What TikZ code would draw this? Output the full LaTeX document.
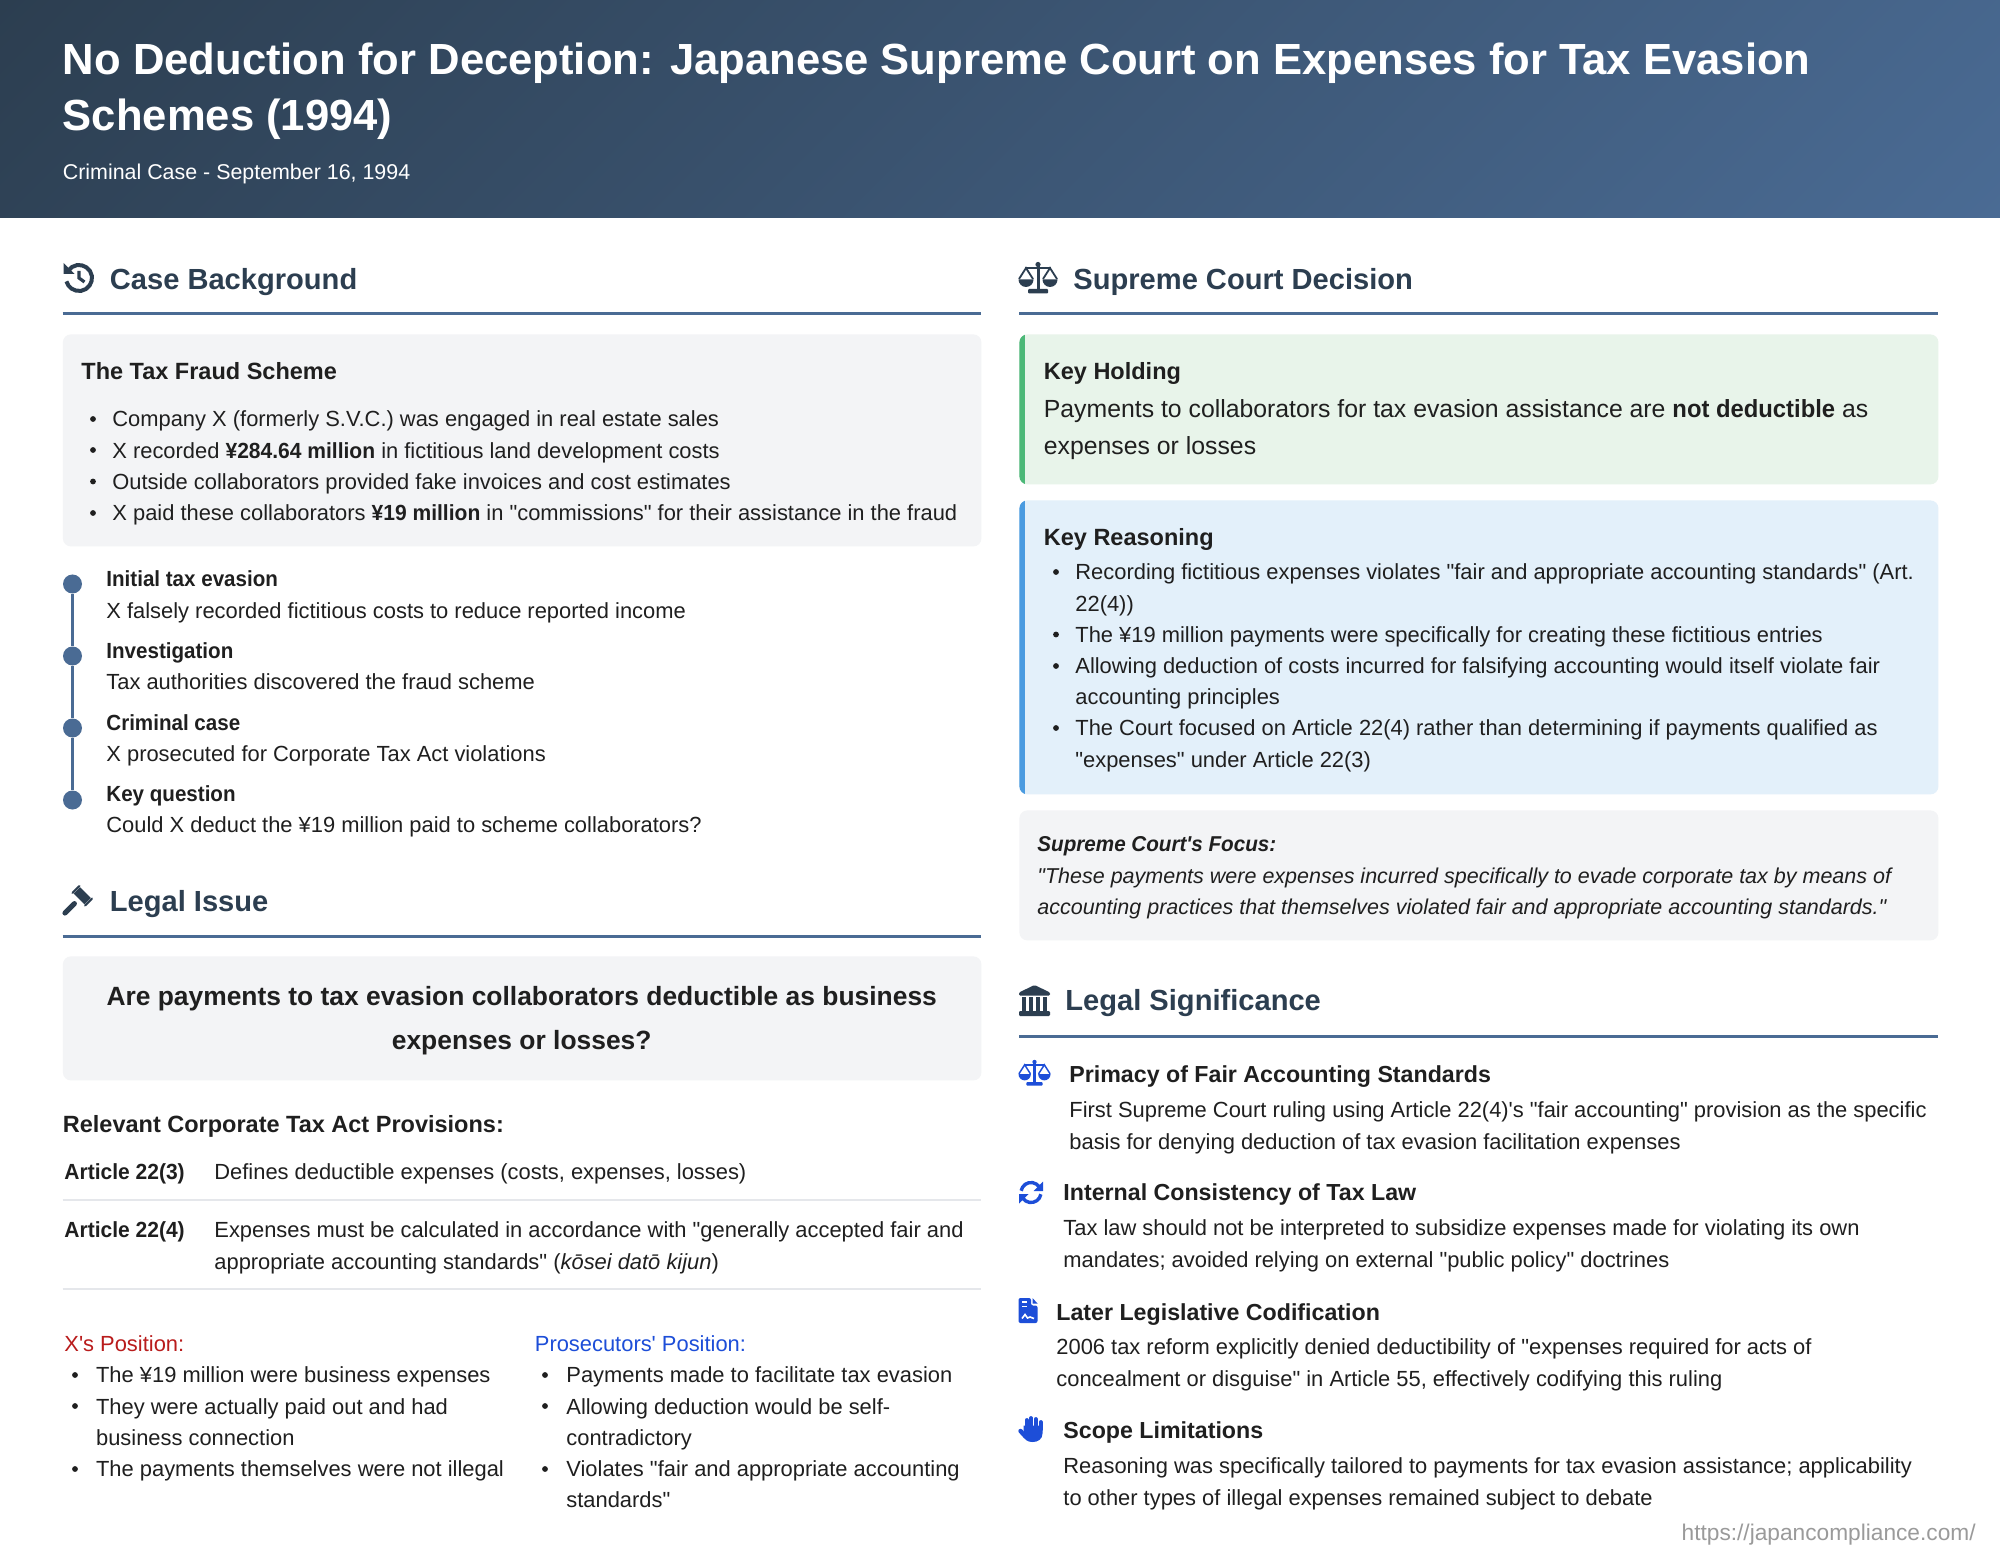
\documentclass[tikz,border=0pt]{standalone}
\usepackage{fontspec}
\setmainfont[Ligatures=TeXOff]{Liberation Sans}
\definecolor{navy}{HTML}{2C3E50}
\definecolor{steel}{HTML}{4A6B94}
\definecolor{panelgray}{HTML}{F3F4F6}
\definecolor{panelgreen}{HTML}{E8F4EA}
\definecolor{bargreen}{HTML}{4CB878}
\definecolor{panelblue}{HTML}{E3F0FA}
\definecolor{barblue}{HTML}{4A9BE0}
\definecolor{inktext}{HTML}{1F1F1F}
\definecolor{linegray}{HTML}{E5E7EB}
\definecolor{posred}{HTML}{B91C1C}
\definecolor{posblue}{HTML}{1D4ED8}
\definecolor{urlgray}{HTML}{9A9A9A}

% bold set a little narrower, as the body weight runs wide
\newcommand{\bld}[1]{\textbf{\addfontfeature{FakeStretch=0.96}#1}}
\newcommand{\stephead}[1]{\textbf{\addfontfeature{FakeStretch=0.94}#1}}

% icons: x, y of centre, colour, size factor
\newcommand{\iconscales}[4]{
	\begin{scope}[shift={(#1,#2)},x={#4*0.5pt},y={#4*0.5pt},#3,fill=#3]
		\draw[line width=#4*1.5pt] (0,13) -- (0,-13);
		\fill (0,13.5) circle (2.6);
		\draw[line width=#4*1.3pt] (-13,10) -- (13,10);
		\fill[rounded corners=0.5pt] (-10,-15.5) rectangle (10,-11);
		\foreach \side in {-12,12} {
			\draw[line width=#4*0.9pt] (\side-7,-1) -- (\side,10) -- (\side+7,-1);
			\fill (\side-7.5,-1.5) -- (\side+7.5,-1.5) arc (0:-180:7.5) -- cycle;
		}
	\end{scope}
}

\begin{document}
\begin{tikzpicture}[x=0.5pt,y=-0.5pt]

		% Define styles
		\tikzstyle{panel} = [rectangle, rounded corners=4pt, fill=panelgray, inner sep=0pt, anchor=north west]
		\tikzset{barpanel/.style 2 args={panel, fill=#2, path picture={
			\fill[#1, sharp corners] (path picture bounding box.south west) rectangle ([xshift=3pt]path picture bounding box.north west);}}}
		\tikzstyle{txt} = [anchor=north west, inner sep=0pt, align=left, text=inktext, execute at begin node=\strut]
		\tikzstyle{bodytxt} = [txt, yshift=-0.6pt, font=\fontsize{10.95}{15.6}\selectfont]
		\tikzstyle{subhead} = [txt, font=\fontsize{11.75}{18}\selectfont\bfseries]
		\tikzstyle{sechead} = [txt, text=navy, font=\fontsize{14.55}{20}\selectfont\bfseries]
		\tikzstyle{sigtitle} = [txt, font=\fontsize{11.6}{17}\selectfont\bfseries]
		\tikzstyle{secrule} = [steel, line width=1.5pt]
		\tikzstyle{rowrule} = [linegray, line width=0.6pt]
		\tikzstyle{bul} = [inktext]
		\tikzstyle{tdot} = [circle, fill=steel, minimum size=9.5pt, inner sep=0pt]

		\path[use as bounding box, fill=white] (0,0) rectangle (2000,1566);

		% Header
		\begin{scope}
			\clip (0,0) rectangle (2000,218);
			\shade[transform canvas={rotate around={-45:(1000,109)}}, left color=navy, right color=steel] (216,-675) rectangle (1784,893);
		\end{scope}
		\node (title) [txt, text=white, font=\fontsize{21.8}{28.2}\selectfont\bfseries] at (62.5,34.2) {\strut No Deduction for Deception: Japanese Supreme Court on Expenses for Tax Evasion\\Schemes (1994)};
		\node (subtitle) [txt, text=white, font=\fontsize{10.7}{16}\selectfont] at (62.5,157) {Criminal Case - September 16, 1994};

		% Case Background
		\node (bghead) [sechead] at (109.5,261) {Case Background};
		\draw [secrule] (62.5,314) -- (981,314);
		\begin{scope}[shift={(79,278)},x=0.5pt,y=0.5pt]
			\draw[navy, line width=2pt] (145:13) arc (145:-165:13);
			\fill[navy] (-15.5,15) -- (-15.5,4) -- (-4.5,4) -- cycle;
			\draw[navy, line width=1.6pt] (0,7) -- (0,0) -- (5.5,-4);
		\end{scope}
		\node (schemebox) [panel, minimum width=459.25pt, minimum height=106pt] at (62.5,334) {};
		\node (schemehead) [subhead] at (81,354) {The Tax Fraud Scheme};
		\node (schemelist) [bodytxt] at (112,403.4) {\strut Company X (formerly S.V.C.) was engaged in real estate sales\\
			X recorded \bld{¥284.64 million} in fictitious land development costs\\
			Outside collaborators provided fake invoices and cost estimates\\
			X paid these collaborators \bld{¥19 million} in "commissions" for their assistance in the fraud};
		\foreach \ly in {419,450,481.5,513} \fill[bul] (93,\ly) circle (2.9);

		% Timeline
		\node (dota) [tdot] at (72.5,584) {};
		\node (dotb) [tdot, below of=dota, node distance=36pt] {};
		\node (dotc) [tdot, below of=dotb, node distance=36pt] {};
		\node (dotd) [tdot, below of=dotc, node distance=36pt] {};
		\draw [steel, line width=1.5pt] (dota) -- (dotb) -- (dotc) -- (dotd);
		\node (stepa) [bodytxt] at (106,563.4) {\strut\stephead{Initial tax evasion}\\X falsely recorded fictitious costs to reduce reported income};
		\node (stepb) [bodytxt] at (106,635) {\strut\stephead{Investigation}\\Tax authorities discovered the fraud scheme};
		\node (stepc) [bodytxt] at (106,706.6) {\strut\stephead{Criminal case}\\X prosecuted for Corporate Tax Act violations};
		\node (stepd) [bodytxt] at (106,778.2) {\strut\stephead{Key question}\\Could X deduct the ¥19 million paid to scheme collaborators?};

		% Legal Issue
		\node (issuehead) [sechead] at (109.5,883) {Legal Issue};
		\draw [secrule] (62.5,936) -- (981,936);
		\begin{scope}[shift={(78,900)},x=0.5pt,y=0.5pt,rotate=225]
			\fill[navy] (-10.5,-7.5) rectangle (-1.5,7.5);
			\fill[navy, rounded corners=0.6pt] (-12,-10) rectangle (0,-7.9);
			\fill[navy, rounded corners=0.6pt] (-12,7.9) rectangle (0,10);
			\draw[navy, line width=2.5pt, line cap=round] (5,0) -- (18.5,0);
		\end{scope}
		\node (issuebox) [panel, minimum width=459.25pt, minimum height=62pt] at (62.5,956) {};
		\node (issuetext) [txt, anchor=north, align=center, font=\fontsize{13.2}{22}\selectfont\bfseries] at (521.7,974.4) {\strut Are payments to tax evasion collaborators deductible as business\\expenses or losses?};
		\node (provhead) [subhead] at (62.5,1107) {Relevant Corporate Tax Act Provisions:};
		\node (arta) [bodytxt] at (64,1156.4) {\bld{Article 22(3)}};
		\node (artatext) [bodytxt] at (214,1156.4) {Defines deductible expenses (costs, expenses, losses)};
		\draw [rowrule] (62.5,1200) -- (981,1200);
		\node (artb) [bodytxt] at (64,1214.4) {\bld{Article 22(4)}};
		\node (artbtext) [bodytxt] at (214,1214.4) {\strut Expenses must be calculated in accordance with "generally accepted fair and\\appropriate accounting standards" (\textit{kōsei datō kijun})};
		\draw [rowrule] (62.5,1289) -- (981,1289);

		% Positions
		\node (xhead) [bodytxt, text=posred] at (64,1328.4) {X's Position:};
		\node (xlist) [bodytxt] at (95.7,1359.4) {\strut The ¥19 million were business expenses\\
			They were actually paid out and had\\
			business connection\\
			The payments themselves were not illegal};
		\foreach \ly in {1375,1406,1469} \fill[bul] (75,\ly) circle (2.9);
		\node (prhead) [bodytxt, text=posblue] at (534.5,1328.4) {Prosecutors' Position:};
		\node (prlist) [bodytxt] at (566,1359.4) {\strut Payments made to facilitate tax evasion\\
			Allowing deduction would be self-\\
			contradictory\\
			Violates "fair and appropriate accounting\\
			standards"};
		\foreach \ly in {1375,1406,1469} \fill[bul] (545,\ly) circle (2.9);

		% Supreme Court Decision
		\node (dechead) [sechead] at (1073,261) {Supreme Court Decision};
		\draw [secrule] (1019,314) -- (1938,314);
		\iconscales{1038}{278}{navy}{1}
		\node (holdbox) [barpanel={bargreen}{panelgreen}, minimum width=459.5pt, minimum height=75pt] at (1019,334) {};
		\node (holdhead) [subhead] at (1043.5,354) {Key Holding};
		\node (holdtext) [txt, font=\fontsize{12.4}{18.8}\selectfont] at (1043.5,390.5) {\strut Payments to collaborators for tax evasion assistance are \bld{not deductible} as\\expenses or losses};
		\node (reasonbox) [barpanel={barblue}{panelblue}, minimum width=459.5pt, minimum height=147pt] at (1019,500) {};
		\node (reasonhead) [subhead] at (1043.5,520) {Key Reasoning};
		\node (reasonlist) [bodytxt] at (1075,556.4) {\strut Recording fictitious expenses violates "fair and appropriate accounting standards" (Art.\\
			22(4))\\
			The ¥19 million payments were specifically for creating these fictitious entries\\
			Allowing deduction of costs incurred for falsifying accounting would itself violate fair\\
			accounting principles\\
			The Court focused on Article 22(4) rather than determining if payments qualified as\\
			"expenses" under Article 22(3)};
		\foreach \ly in {572,634.5,666,728} \fill[bul] (1056,\ly) circle (2.9);
		\node (focusbox) [panel, minimum width=459.5pt, minimum height=65pt] at (1019,810) {};
		\node (focustext) [bodytxt, font=\fontsize{10.75}{15.6}\selectfont\itshape] at (1037,828.4) {\strut\bld{Supreme Court's Focus:}\\
			"These payments were expenses incurred specifically to evade corporate tax by means of\\
			accounting practices that themselves violated fair and appropriate accounting standards."};

		% Legal Significance
		\node (sighead) [sechead] at (1065,982) {Legal Significance};
		\draw [secrule] (1019,1036) -- (1938,1036);
		\begin{scope}[shift={(1034.5,1000.5)},x=0.5pt,y=0.5pt]
			\fill[navy, rounded corners=0.6pt] (-15.5,8) -- (0,15.5) -- (15.5,8) -- (15.5,5) -- (-15.5,5) -- cycle;
			\foreach \cx in {-10.5,-3.5,3.5,10.5} \fill[navy] (\cx-1.7,4) rectangle (\cx+1.7,-10);
			\fill[navy, rounded corners=0.6pt] (-15.5,-15.5) rectangle (15.5,-10.5);
		\end{scope}

		\iconscales{1034.5}{1073}{posblue}{0.82}
		\node (siga) [sigtitle] at (1069,1058) {Primacy of Fair Accounting Standards};
		\node (sigatext) [bodytxt] at (1069,1094.4) {\strut First Supreme Court ruling using Article 22(4)'s "fair accounting" provision as the specific\\basis for denying deduction of tax evasion facilitation expenses};

		\begin{scope}[shift={(1031,1192.5)},x=0.5pt,y=0.5pt]
			\draw[posblue, line width=1.7pt] (170:10) arc (170:35:10);
			\draw[posblue, line width=1.7pt] (-10:10) arc (-10:-145:10);
			\fill[posblue] (12,11) -- (12,1.5) -- (2.5,1.5) -- cycle;
			\fill[posblue] (-12,-11) -- (-12,-1.5) -- (-2.5,-1.5) -- cycle;
		\end{scope}
		\node (sigb) [sigtitle] at (1063,1176.5) {Internal Consistency of Tax Law};
		\node (sigbtext) [bodytxt] at (1063,1212.4) {\strut Tax law should not be interpreted to subsidize expenses made for violating its own\\mandates; avoided relying on external "public policy" doctrines};

		\begin{scope}[shift={(1028,1310.5)},x=0.5pt,y=0.5pt]
			\fill[posblue, rounded corners=1pt] (-9.5,12.5) -- (3,12.5) -- (3,5) -- (9.5,5) -- (9.5,-12.5) -- (-9.5,-12.5) -- cycle;
			\fill[posblue] (4.5,12.5) -- (9.5,7) -- (4.5,7) -- cycle;
			\draw[white, line width=0.9pt] (-6,8.5) -- (-1.5,8.5) (-6,4) -- (-1.5,4);
			\draw[white, line width=0.8pt] (-6,-8) -- (-3,-4) -- (-0.5,-7.5) -- (2,-6.5) -- (6,-8);
		\end{scope}
		\node (sigc) [sigtitle] at (1056,1296) {Later Legislative Codification};
		\node (sigctext) [bodytxt] at (1056,1331.4) {\strut 2006 tax reform explicitly denied deductibility of "expenses required for acts of\\concealment or disguise" in Article 55, effectively codifying this ruling};

		\begin{scope}[shift={(1030.5,1429.5)},x=0.5pt,y=0.5pt]
			\fill[posblue] (-7,4) -- (12,4) -- (12,-4) .. controls (12,-10) and (7,-12.5) .. (2,-12.5) .. controls (-3,-12.5) and (-6,-10) .. (-7,-7) -- cycle;
			\draw[posblue, line width=1.9pt, line cap=round] (-3.9,0) -- (-3.9,9.5) (0.6,0) -- (0.6,11.5) (5.2,0) -- (5.2,10.5) (10.2,0) -- (10.2,7.5);
			\draw[posblue, line width=2.2pt, line cap=round] (-10,-1.5) -- (-5,-7);
		\end{scope}
		\node (sigd) [sigtitle] at (1063,1414.5) {Scope Limitations};
		\node (sigdtext) [bodytxt] at (1063,1450.4) {\strut Reasoning was specifically tailored to payments for tax evasion assistance; applicability\\to other types of illegal expenses remained subject to debate};

		% Source
		\node (srcurl) [txt, anchor=north east, text=urlgray, font=\fontsize{11.35}{16}\selectfont] at (1976,1518) {https://japancompliance.com/};
	\end{tikzpicture}
\end{document}
